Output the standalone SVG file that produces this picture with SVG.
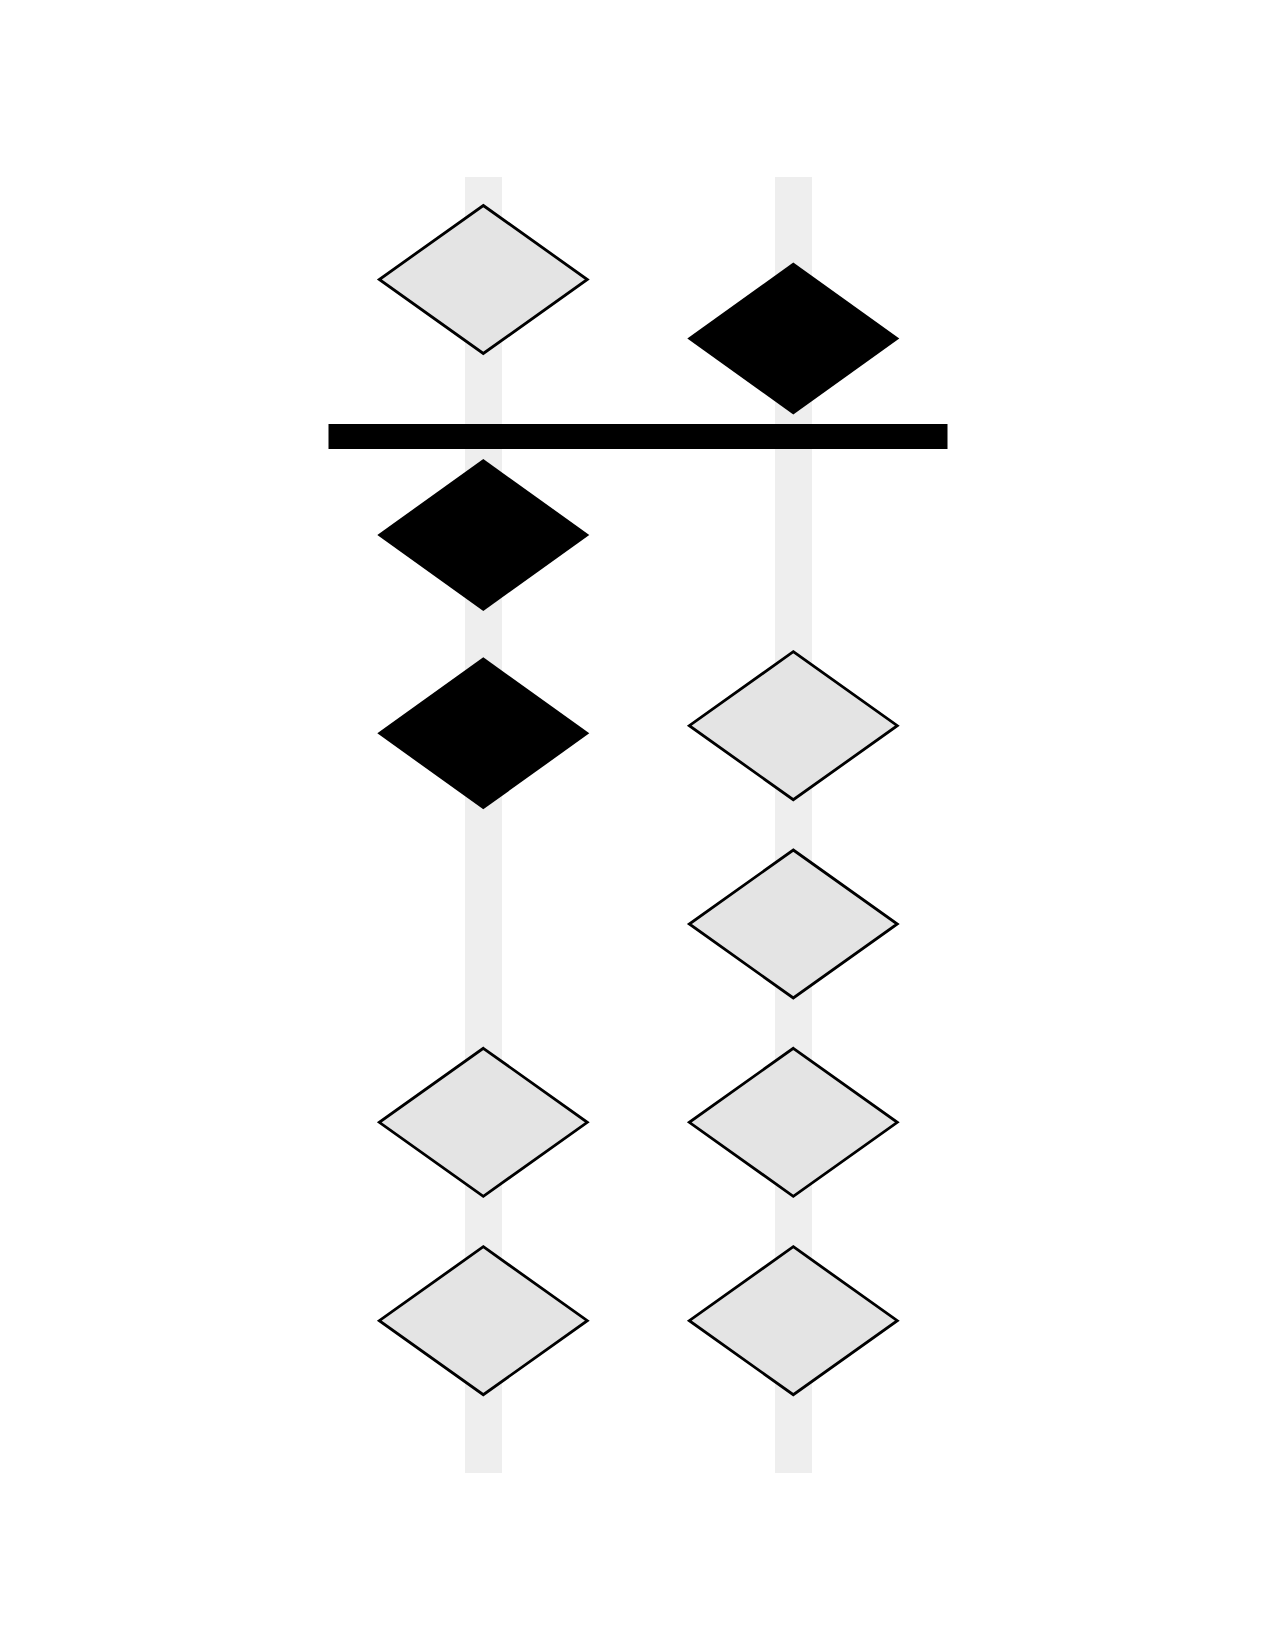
<svg xmlns="http://www.w3.org/2000/svg" width="1275" height="1650" viewBox="0 0 1275 1650">
<style>
.rod{fill:#eeeeee}
.bar{fill:#000000}
.up{fill:#e4e4e4;stroke:#000;stroke-width:2.8;stroke-linejoin:miter}
.act{fill:#000000;stroke:none}
</style>
<defs>
<polygon id="dl" points="0,-74 104,0 0,74 -104,0"/>
<polygon id="dd" points="0,-76 106,0 0,76 -106,0"/>
</defs>
<rect width="1275" height="1650" fill="#ffffff"/>
<g id="rods">
<rect class="rod" x="465" y="177" width="37" height="1296"/>
<rect class="rod" x="775" y="177" width="37" height="1296"/>
</g>
<g id="beam"><rect class="bar" x="328.5" y="424" width="619" height="25"/></g>
<g id="bead-l1"><use href="#dl" class="up" x="483.3" y="279.5"/></g>
<g id="bead-r1"><use href="#dd" class="act" x="793.3" y="338.5"/></g>
<g id="bead-l2"><use href="#dd" class="act" x="483.3" y="535"/></g>
<g id="bead-l3"><use href="#dd" class="act" x="483.3" y="733.3"/></g>
<g id="bead-l4"><use href="#dl" class="up" x="483.3" y="1122.3"/></g>
<g id="bead-l5"><use href="#dl" class="up" x="483.3" y="1320.7"/></g>
<g id="bead-r2"><use href="#dl" class="up" x="793.3" y="725.7"/></g>
<g id="bead-r3"><use href="#dl" class="up" x="793.3" y="924"/></g>
<g id="bead-r4"><use href="#dl" class="up" x="793.3" y="1122.3"/></g>
<g id="bead-r5"><use href="#dl" class="up" x="793.3" y="1320.7"/></g>
</svg>
